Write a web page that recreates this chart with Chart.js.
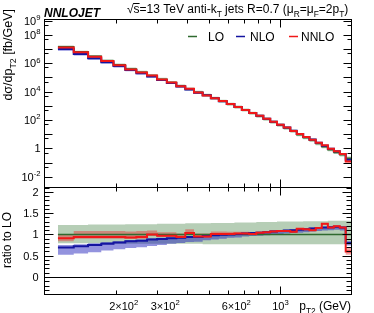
<!DOCTYPE html>
<html>
<head>
<meta charset="utf-8">
<script src="https://cdn.jsdelivr.net/npm/chart.js@4.4.1/dist/chart.umd.min.js"></script>
<style>
  html, body { margin: 0; padding: 0; background: #fff; }
  #wrap { position: relative; width: 374px; height: 313px; }
  #wrap canvas { position: absolute; left: 0; top: 0; }
</style>
</head>
<body>
<div id="wrap">
  <canvas id="spectrum" width="374" height="313"></canvas>
  <canvas id="ratio" width="374" height="313"></canvas>
</div>
<script>
// bin edges of p_T2 (GeV)
const ptEdges = [114, 133, 153, 174, 196, 220, 245, 272, 300, 330, 362, 395, 430, 468, 507, 548, 592, 638,
  686, 737, 790, 846, 905, 967, 1032, 1101, 1172, 1248, 1327, 1410, 1497, 1588, 1684, 1784, 1890, 2000];

// LO cross section, fb/GeV
const loXsec = [1.41e7, 6.2e6, 3.0e6, 1.5e6, 7.6e5, 3.9e5, 2.3e5, 1.32e5, 7.4e4, 4.4e4, 2.5e4, 1.5e4, 8.9e3,
  5.6e3, 3.4e3, 2.1e3, 1.3e3, 810, 500, 300, 186, 115, 71, 43, 27, 16, 9.1, 5.6, 3.7, 2.15, 1.3, 0.81, 0.52, 0.35, 0.2];

// ratios to LO
const loBandUp = [1.22, 1.22, 1.23, 1.23, 1.23, 1.24, 1.24, 1.24, 1.25, 1.25, 1.25, 1.26, 1.26, 1.26, 1.27, 1.27,
  1.27, 1.28, 1.28, 1.28, 1.29, 1.29, 1.29, 1.30, 1.30, 1.30, 1.30, 1.31, 1.31, 1.31, 1.31, 1.32, 1.32, 1.32, 1.32];
const loBandDn = [0.79, 0.79, 0.79, 0.79, 0.78, 0.78, 0.78, 0.78, 0.78, 0.78, 0.78, 0.78, 0.78, 0.77, 0.77, 0.77,
  0.77, 0.77, 0.77, 0.77, 0.77, 0.77, 0.77, 0.77, 0.77, 0.77, 0.77, 0.77, 0.77, 0.77, 0.77, 0.77, 0.77, 0.77, 0.77];

const nloRatio = [0.69, 0.72, 0.75, 0.78, 0.81, 0.84, 0.85, 0.88, 0.89, 0.91, 0.92, 0.94, 0.94, 0.96, 0.98, 0.99,
  1.00, 1.01, 1.02, 1.03, 1.04, 1.05, 1.07, 1.08, 1.09, 1.10, 1.11, 1.12, 1.14, 1.15, 1.16, 1.17, 1.18, 1.16, 0.80];
const nloBandUp = [0.75, 0.77, 0.79, 0.82, 0.84, 0.87, 0.88, 0.91, 0.92, 0.93, 0.94, 0.96, 0.96, 0.98, 1.00, 1.01,
  1.02, 1.03, 1.04, 1.05, 1.06, 1.07, 1.09, 1.10, 1.11, 1.12, 1.13, 1.14, 1.16, 1.17, 1.18, 1.19, 1.20, 1.18, 0.84];
const nloBandDn = [0.52, 0.55, 0.58, 0.62, 0.65, 0.68, 0.70, 0.73, 0.75, 0.78, 0.80, 0.82, 0.83, 0.86, 0.88, 0.90,
  0.92, 0.93, 0.95, 0.96, 0.97, 0.98, 1.00, 1.01, 1.02, 1.03, 1.04, 1.05, 1.07, 1.08, 1.09, 1.10, 1.11, 1.09, 0.74];

const nnloRatio = [0.91, 0.94, 0.94, 0.94, 0.94, 0.93, 0.94, 1.00, 0.97, 0.97, 0.94, 1.03, 0.95, 0.95, 1.01, 1.01,
  1.01, 1.02, 1.02, 1.01, 1.04, 1.05, 1.07, 1.08, 1.08, 1.06, 1.13, 1.12, 1.10, 1.15, 1.25, 1.16, 1.19, 1.16, 0.60];
const nnloBandUp = [1.00, 1.08, 1.08, 1.08, 1.08, 1.07, 1.08, 1.09, 1.05, 1.05, 1.02, 1.12, 1.02, 1.02, 1.07, 1.07,
  1.06, 1.06, 1.06, 1.05, 1.07, 1.08, 1.10, 1.10, 1.10, 1.08, 1.15, 1.14, 1.12, 1.17, 1.27, 1.18, 1.21, 1.18, 0.68];
const nnloBandDn = [0.84, 0.90, 0.90, 0.90, 0.90, 0.89, 0.90, 0.97, 0.94, 0.94, 0.91, 1.00, 0.92, 0.92, 0.98, 0.98,
  0.99, 1.00, 1.00, 0.99, 1.02, 1.03, 1.05, 1.06, 1.06, 1.04, 1.11, 1.10, 1.08, 1.13, 1.22, 1.14, 1.17, 1.14, 0.52];

// axis ticks
const ptTicks = [200, 300, 400, 500, 600, 700, 800, 900, 1000];
const ptTickLabels = ['2\u00d710^{2}', '3\u00d710^{2}', '', '', '6\u00d710^{2}', '', '', '', '10^{3}'];
const xsecTicks = [1e-2, 1e-1, 1, 1e1, 1e2, 1e3, 1e4, 1e5, 1e6, 1e7, 1e8, 1e9];
const xsecTickLabels = ['10^{-2}', '', '1', '', '10^{2}', '', '10^{4}', '', '10^{6}', '', '10^{8}', '10^{9}'];
const ratioTicks = [0, 0.5, 1, 1.5, 2];
const ratioTickLabels = ['0', '0.5', '1', '1.5', '2'];

const FONT = '"Liberation Sans", Arial, Helvetica, sans-serif';
const C_LO = '#2f6a2f', C_NLO = '#1414a0', C_NNLO = '#f01818';
const B_LO = 'rgba(40,110,40,0.34)', B_NLO = 'rgba(30,30,185,0.48)', B_NNLO = 'rgba(230,40,40,0.42)';

const times = (a, b) => a.map((v, i) => v * b[i]);
const loRatio = loXsec.map(v => v / v);

function steps(values) {
  const pts = values.map((v, i) => ({ x: ptEdges[i], y: v }));
  pts.push({ x: ptEdges[ptEdges.length - 1], y: values[values.length - 1] });
  return pts;
}
function band(up, dn, color) {
  return [
    { data: steps(up), stepped: 'before', borderWidth: 0, borderColor: 'transparent', pointRadius: 0, fill: false },
    { data: steps(dn), stepped: 'before', borderWidth: 0, borderColor: 'transparent', pointRadius: 0, fill: '-1', backgroundColor: color },
  ];
}
function line(values, color, width) {
  return { data: steps(values), stepped: 'before', borderColor: color, borderWidth: width, pointRadius: 0, fill: false };
}

// text with ^{} and _{}
function parseRich(str) {
  const parts = [], re = /([\^_])\{([^}]*)\}/g;
  let last = 0, m;
  while ((m = re.exec(str))) {
    if (m.index > last) parts.push({ t: str.slice(last, m.index), k: 0 });
    parts.push({ t: m[2], k: m[1] === '^' ? 1 : -1 });
    last = re.lastIndex;
  }
  if (last < str.length) parts.push({ t: str.slice(last), k: 0 });
  return parts;
}
function drawRich(ctx, str, x, y, size, align, style) {
  const parts = parseRich(str);
  const font = k => `${style || ''} ${k ? size * 0.7 : size}px ${FONT}`;
  let w = 0;
  parts.forEach(p => { ctx.font = font(p.k); p.w = ctx.measureText(p.t).width; w += p.w; });
  let cx = align === 'right' ? x - w : align === 'center' ? x - w / 2 : x;
  ctx.textAlign = 'left';
  ctx.textBaseline = 'alphabetic';
  parts.forEach(p => {
    ctx.font = font(p.k);
    ctx.fillText(p.t, cx, y + (p.k === 1 ? -size * 0.42 : p.k === -1 ? size * 0.3 : 0));
    cx += p.w;
  });
  return w;
}

function tick(ctx, x1, y1, x2, y2) {
  ctx.beginPath(); ctx.moveTo(x1, y1); ctx.lineTo(x2, y2); ctx.stroke();
}
function xTickMarks(chart) {
  const { ctx, chartArea: a, scales: { x } } = chart;
  ptTicks.forEach(v => {
    const px = Math.round(x.getPixelForValue(v)) + 0.5;
    const len = v === 1000 ? 8 : 4;
    tick(ctx, px, a.top, px, a.top + len);
    tick(ctx, px, a.bottom, px, a.bottom - len);
  });
}
function yTickMarks(chart, v, len) {
  const { ctx, chartArea: a, scales: { y } } = chart;
  const py = Math.round(y.getPixelForValue(v)) + 0.5;
  if (py < a.top || py > a.bottom) return;
  tick(ctx, a.left, py, a.left + len, py);
  tick(ctx, a.right, py, a.right - len, py);
}

const spectrumAxes = {
  id: 'spectrumAxes',
  afterDatasetsDraw(chart) {
    const { ctx, chartArea: a, scales: { y } } = chart;
    ctx.save();
    ctx.strokeStyle = '#000';
    ctx.lineWidth = 1;
    ctx.strokeRect(a.left, a.top, a.right - a.left, a.bottom - a.top);
    xTickMarks(chart);
    xsecTicks.forEach(v => { yTickMarks(chart, v, 8); yTickMarks(chart, v * 5, 4); });
    ctx.fillStyle = '#000';
    xsecTicks.forEach((v, i) => {
      if (xsecTickLabels[i]) drawRich(ctx, xsecTickLabels[i], a.left - 4, y.getPixelForValue(v) + 4, 11, 'right');
    });
    // y title
    ctx.save();
    ctx.translate(12, 9);
    ctx.rotate(-Math.PI / 2);
    drawRich(ctx, 'd\u03c3/dp_{T2} [fb/GeV]', 0, 0, 12.5, 'right');
    ctx.restore();
    // NNLOJET tag
    drawRich(ctx, 'NNLOJET', 44, 17, 12, 'left', 'italic bold');
    // title
    ctx.font = `12px ${FONT}`;
    const x0 = 127, base = 13;
    ctx.textAlign = 'left';
    ctx.fillText('\u221a', x0, base);
    const wr = ctx.measureText('\u221a').width;
    const ws = ctx.measureText('s').width;
    tick(ctx, x0 + wr - 0.5, base - 9.5, x0 + wr + ws, base - 9.5);
    drawRich(ctx, 's=13 TeV anti-k_{T} jets R=0.7 (\u03bc_{R}=\u03bc_{F}=2p_{T})', x0 + wr, base, 12, 'left');
    // legend
    const legend = [['LO', C_LO, 188, 208], ['NLO', C_NLO, 236, 250], ['NNLO', C_NNLO, 289, 301]];
    legend.forEach(([name, color, lx, tx]) => {
      ctx.strokeStyle = color;
      ctx.lineWidth = 1.5;
      tick(ctx, lx, 36.5, lx + 9, 36.5);
      ctx.fillStyle = '#000';
      drawRich(ctx, name, tx, 40.5, 12, 'left');
    });
    ctx.restore();
  }
};

const ratioAxes = {
  id: 'ratioAxes',
  beforeDatasetsDraw(chart) {
    const { ctx, chartArea: a, scales: { y } } = chart;
    const py = Math.round(y.getPixelForValue(0)) + 0.5;
    ctx.save();
    ctx.strokeStyle = '#000';
    ctx.lineWidth = 1;
    tick(ctx, a.left, py, a.right, py);
    ctx.restore();
  },
  afterDatasetsDraw(chart) {
    const { ctx, chartArea: a, scales: { x, y } } = chart;
    ctx.save();
    ctx.strokeStyle = '#000';
    ctx.lineWidth = 1;
    ctx.strokeRect(a.left, a.top, a.right - a.left, a.bottom - a.top);
    xTickMarks(chart);
    for (let k = -4; k <= 21; k++) yTickMarks(chart, k / 10, k % 5 === 0 ? 9 : 5);
    ctx.fillStyle = '#000';
    ratioTicks.forEach((v, i) => drawRich(ctx, ratioTickLabels[i], a.left - 6, y.getPixelForValue(v) + 4, 11, 'right'));
    ptTicks.forEach((v, i) => {
      const label = ptTickLabels[i];
      if (!label) return;
      ctx.font = `11px ${FONT}`;
      const lead = label.indexOf('10') > 0 ? ctx.measureText(label.slice(0, label.indexOf('10'))).width : 0;
      drawRich(ctx, label, x.getPixelForValue(v) + lead * 0.65, 310, 11, 'center');
    });
    drawRich(ctx, 'p_{T2} (GeV)', 351, 310, 12, 'right');
    ctx.save();
    ctx.translate(11, 240);
    ctx.rotate(-Math.PI / 2);
    drawRich(ctx, 'ratio to LO', 0, 0, 12, 'center');
    ctx.restore();
    ctx.restore();
  }
};

function baseOptions(padding, yScale) {
  return {
    responsive: false,
    animation: false,
    devicePixelRatio: 1,
    events: [],
    layout: { padding },
    plugins: { legend: { display: false }, tooltip: { enabled: false } },
    elements: { line: { tension: 0, borderCapStyle: 'butt', borderJoinStyle: 'miter' } },
    scales: {
      x: { type: 'logarithmic', min: 100, max: 2000, display: false },
      y: Object.assign({ display: false }, yScale),
    },
  };
}

// Chart.js paints dataset 0 last, so the lines come first and the LO band last
new Chart(document.getElementById('spectrum'), {
  type: 'line',
  data: {
    datasets: [
      line(times(loXsec, nnloRatio), C_NNLO, 2),
      line(times(loXsec, nloRatio), C_NLO, 2),
      line(loXsec, C_LO, 1.5),
      ...band(times(loXsec, nnloBandUp), times(loXsec, nnloBandDn), B_NNLO),
      ...band(times(loXsec, nloBandUp), times(loXsec, nloBandDn), B_NLO),
      ...band(times(loXsec, loBandUp), times(loXsec, loBandDn), B_LO),
    ],
  },
  options: baseOptions({ left: 44.5, top: 19.5, right: 22.5, bottom: 125.5 },
    { type: 'logarithmic', min: 1.75e-3, max: 1.18e9 }),
  plugins: [spectrumAxes],
});

new Chart(document.getElementById('ratio'), {
  type: 'line',
  data: {
    datasets: [
      line(nnloRatio, C_NNLO, 2),
      line(nloRatio, C_NLO, 2),
      line(loRatio, C_LO, 1.5),
      ...band(nnloBandUp, nnloBandDn, B_NNLO),
      ...band(nloBandUp, nloBandDn, B_NLO),
      ...band(loBandUp, loBandDn, B_LO),
    ],
  },
  options: baseOptions({ left: 44.5, top: 187.5, right: 22.5, bottom: 18.5 },
    { type: 'linear', min: -0.41, max: 2.1 }),
  plugins: [ratioAxes],
});
</script>
</body>
</html>
